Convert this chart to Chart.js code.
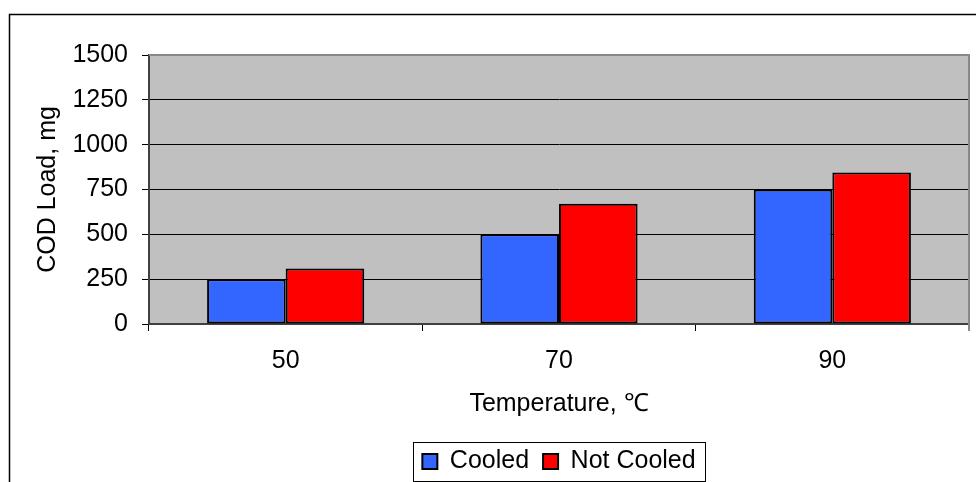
<!DOCTYPE html>
<html>
<head>
<meta charset="utf-8">
<script src="https://cdn.jsdelivr.net/npm/chart.js@4/dist/chart.umd.min.js"></script>
<style>
  html, body { margin: 0; padding: 0; background: #fff; }
  #wrap { width: 976px; height: 482px; }
</style>
</head>
<body>
<div id="wrap"><canvas id="chart" width="976" height="482"></canvas></div>
<script>
// temperature groups and COD load per series
const temperatures = ['50', '70', '90'];
const cooled = [250, 500, 750];
const notCooled = [310, 670, 845];
const yTicks = [0, 250, 500, 750, 1000, 1250, 1500];

const FONT = 'Liberation Sans, Arial, sans-serif';
const SIZE = 25;

// grey plot background, outer frame and the box around the legend
const frames = {
  id: 'frames',
  afterUpdate(chart) {
    // centre the legend under the plot area instead of the canvas
    const lg = chart.legend, a = chart.chartArea;
    if (!lg || !lg.legendHitBoxes) return;
    const dx = (a.left + a.right) / 2 - (lg.left + lg.right) / 2;
    lg.left = a.left;
    lg.right = a.right;
    lg.width = a.right - a.left;
    lg.top += 2;
    lg.bottom += 2;
    lg.legendHitBoxes.forEach(b => { b.left += dx; b.top += 2; });
  },
  beforeDraw(chart) {
    const { ctx, chartArea: a } = chart;
    ctx.save();
    ctx.fillStyle = '#c0c0c0';
    ctx.fillRect(a.left, a.top, a.right - a.left, a.bottom - a.top);
    ctx.strokeStyle = '#000';
    ctx.lineWidth = 1.5;
    ctx.beginPath();
    ctx.moveTo(976, 14.5);
    ctx.lineTo(9.5, 14.5);
    ctx.lineTo(9.5, 482);
    ctx.stroke();
    ctx.restore();
  },
  afterDatasetsDraw(chart) {
    const { ctx, chartArea: a } = chart;
    ctx.save();
    ctx.strokeStyle = '#888';
    ctx.lineWidth = 2;
    ctx.beginPath();
    ctx.moveTo(a.left, a.top);
    ctx.lineTo(a.right, a.top);
    ctx.lineTo(a.right, a.bottom + 7);
    ctx.stroke();
    ctx.restore();
  },
  afterDraw(chart) {
    const boxes = chart.legend.legendHitBoxes;
    if (!boxes || !boxes.length) return;
    const left = Math.min(...boxes.map(b => b.left)) - 9;
    const right = Math.max(...boxes.map(b => b.left + b.width)) + 10;
    const top = boxes[0].top - 7;
    const bottom = boxes[0].top + boxes[0].height + 7;
    const ctx = chart.ctx;
    ctx.save();
    ctx.strokeStyle = '#000';
    ctx.lineWidth = 1;
    ctx.strokeRect(Math.round(left) + 0.5, Math.round(top) + 0.5, Math.round(right - left), Math.round(bottom - top));
    ctx.restore();
  }
};

new Chart(document.getElementById('chart'), {
  type: 'bar',
  data: {
    labels: temperatures,
    datasets: [{
      label: 'Cooled',
      data: cooled,
      backgroundColor: '#3366ff',
      borderColor: '#000',
      borderWidth: 2,
      borderSkipped: false
    }, {
      label: 'Not Cooled',
      data: notCooled,
      backgroundColor: '#ff0000',
      borderColor: '#000',
      borderWidth: 2,
      borderSkipped: false
    }]
  },
  options: {
    responsive: false,
    animation: false,
    layout: { padding: { top: 55, right: 7, left: 0, bottom: 0 } },
    datasets: { bar: { categoryPercentage: 0.575, barPercentage: 1 } },
    plugins: {
      tooltip: { enabled: false },
      legend: {
        position: 'bottom',
        labels: {
          color: '#000',
          font: { family: FONT, size: SIZE },
          boxWidth: 15,
          boxHeight: 15,
          padding: 14
        }
      }
    },
    scales: {
      x: {
        afterFit(scale) { scale.height = 482 - 324 - scale.chart.legend.height; },
        grid: { drawOnChartArea: false, drawTicks: true, tickLength: 7, color: '#000', offset: true },
        border: { display: true, color: '#404040', width: 2 },
        ticks: { color: '#000', font: { family: FONT, size: SIZE }, padding: 15 },
        title: {
          display: true,
          text: 'Temperature, ℃',
          color: '#000',
          font: { family: FONT, size: SIZE },
          padding: { top: 0, bottom: 14 }
        }
      },
      y: {
        min: 0,
        max: 1500,
        afterFit(scale) { scale.width = 149; },
        afterBuildTicks(scale) { scale.ticks = yTicks.map(v => ({ value: v })); },
        grid: { color: '#000', lineWidth: 1, tickLength: 7 },
        border: { display: true, color: '#404040', width: 2 },
        ticks: {
          color: '#000',
          font: { family: FONT, size: SIZE },
          padding: 14,
          callback: v => String(v)
        },
        title: {
          display: true,
          text: 'COD Load, mg',
          color: '#000',
          font: { family: FONT, size: SIZE },
          padding: { top: 33, bottom: 0 }
        }
      }
    }
  },
  plugins: [frames]
});
</script>
</body>
</html>
